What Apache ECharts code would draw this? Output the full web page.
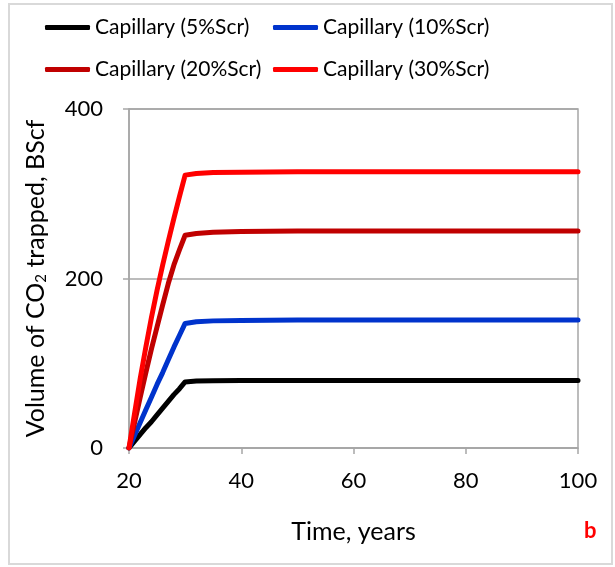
<!DOCTYPE html>
<html>
<head>
<meta charset="utf-8">
<script src="https://cdn.jsdelivr.net/npm/echarts@6/dist/echarts.min.js"></script>
<style>
  html, body { margin: 0; padding: 0; background: #fff; }
  #chart { width: 615px; height: 567px; }
</style>
</head>
<body>
<div id="chart"></div>
<script>
// Years of the simulation (injection ends at year 30)
const years = [20, 21, 22, 23, 24, 25, 26, 27, 28, 29, 30, 32, 35, 40, 50, 60, 70, 80, 90, 100];

// Capillary-trapped CO2 volume, BScf, for each residual saturation case
const scr5  = [0, 8, 16, 24, 31, 39, 47, 55, 63, 70, 78, 79, 79.3, 79.5, 79.5, 79.5, 79.5, 79.5, 79.5, 79.5];
const scr10 = [0, 15, 30, 45, 60, 75, 89, 104, 119, 133, 147, 149, 150, 150.5, 151, 151, 151, 151, 151, 151];
const scr20 = [0, 30, 60, 89, 117, 143, 169, 194, 216, 234, 251, 253, 254.5, 255.5, 256, 256, 256, 256, 256, 256];
const scr30 = [0, 41, 82, 119, 154, 186, 216, 244, 271, 297, 322, 324, 325, 325.5, 326, 326, 326, 326, 326, 326];

const seriesNames = ['Capillary (5%Scr)', 'Capillary (10%Scr)', 'Capillary (20%Scr)', 'Capillary (30%Scr)'];
const seriesValues = [scr5, scr10, scr20, scr30];
const seriesColors = ['#000000', '#0033CC', '#C00000', '#FF0000'];

const xTicks = { min: 20, max: 100, step: 20 };
const yTicks = { min: 0, max: 400, step: 200 };

const FONT = 'Lato';
const AXIS_GRAY = '#A6A6A6';

// legend laid out as a 2 x 2 block: one legend component per entry
const legendSlots = [
  { left: 45, top: 17 }, { left: 273, top: 17 },
  { left: 45, top: 59 }, { left: 273, top: 59 }
];

const chart = echarts.init(document.getElementById('chart'), null, { renderer: 'canvas' });

chart.setOption({
  backgroundColor: '#fff',
  animation: false,
  legend: seriesNames.map((name, i) => ({
    left: legendSlots[i].left,
    top: legendSlots[i].top,
    padding: 0,
    data: [name],
    icon: 'roundRect',
    itemWidth: 45,
    itemHeight: 5,
    textStyle: { fontFamily: FONT, fontSize: 21, color: '#000' }
  })),
  grid: {
    left: 129, right: 37, top: 109, bottom: 119,
    show: true, borderColor: AXIS_GRAY, borderWidth: 1.5, backgroundColor: 'transparent'
  },
  xAxis: {
    type: 'value',
    min: xTicks.min, max: xTicks.max, interval: xTicks.step,
    name: 'Time, years',
    nameLocation: 'middle',
    nameGap: 71,
    nameTextStyle: { fontFamily: FONT, fontSize: 25, color: '#000' },
    axisLine: { lineStyle: { color: AXIS_GRAY, width: 1.5 } },
    axisTick: { show: true, inside: false, length: 6, lineStyle: { color: AXIS_GRAY, width: 1.5 } },
    axisLabel: { fontFamily: FONT, fontSize: 22, color: '#000', margin: 22 },
    splitLine: { show: false }
  },
  yAxis: {
    type: 'value',
    min: yTicks.min, max: yTicks.max, interval: yTicks.step,
    name: 'Volume of CO{sub|2} trapped, BScf',
    nameLocation: 'middle',
    nameGap: 80,
    nameTextStyle: {
      fontFamily: FONT, fontSize: 25, color: '#000',
      rich: { sub: { fontFamily: FONT, fontSize: 15, color: '#000', padding: [12, 0, 0, 0] } }
    },
    axisLine: { show: true, lineStyle: { color: AXIS_GRAY, width: 1.5 } },
    axisTick: { show: true, inside: false, length: 6, lineStyle: { color: AXIS_GRAY, width: 1.5 } },
    axisLabel: { fontFamily: FONT, fontSize: 22, color: '#000', margin: 26 },
    splitLine: { show: true, lineStyle: { color: AXIS_GRAY, width: 1.5 } }
  },
  series: seriesNames.map((name, i) => ({
    name: name,
    type: 'line',
    showSymbol: false,
    symbol: 'none',
    smooth: false,
    color: seriesColors[i],
    lineStyle: { width: 5, color: seriesColors[i], cap: 'round', join: 'round' },
    data: years.map((yr, k) => [yr, seriesValues[i][k]])
  })),
  graphic: [
    {
      type: 'rect',
      silent: true,
      z: -10,
      shape: { x: 9, y: 4, width: 603, height: 560 },
      style: { fill: 'none', stroke: '#D9D9D9', lineWidth: 2 }
    },
    {
      type: 'text',
      left: 584,
      top: 520,
      style: { text: 'b', fill: '#FF0000', font: 'bold 22px ' + FONT }
    }
  ]
});
</script>
</body>
</html>
